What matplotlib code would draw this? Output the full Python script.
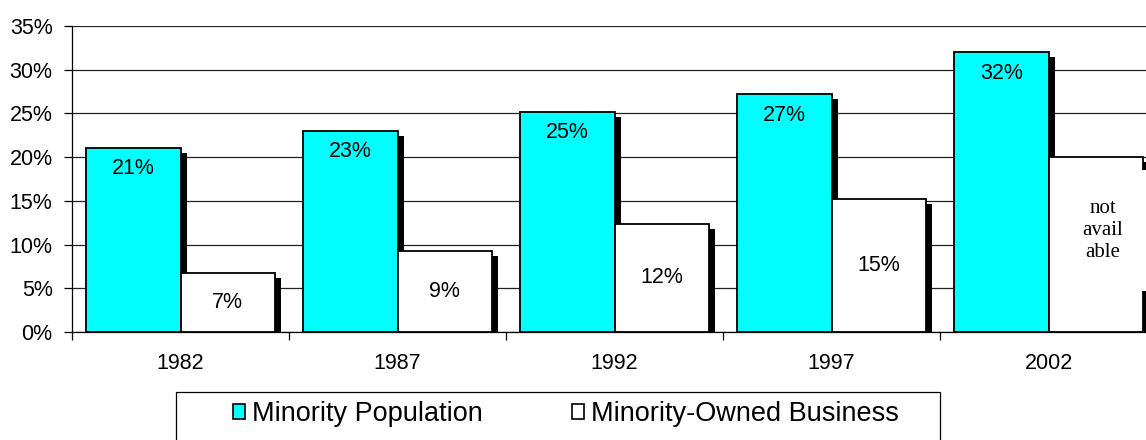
import matplotlib
matplotlib.use("Agg")
import matplotlib.pyplot as plt
from matplotlib.patches import Patch, Rectangle
from matplotlib.transforms import ScaledTranslation, offset_copy
import numpy as np

years = ["1982", "1987", "1992", "1997", "2002"]
population = [21.1, 23.0, 25.2, 27.2, 32.0]
business = [6.8, 9.3, 12.4, 15.2, 20.0]
pop_labels = ["21%", "23%", "25%", "27%", "32%"]
bus_labels = ["7%", "9%", "12%", "15%", "not\navail\nable"]
yticks = [0, 5, 10, 15, 20, 25, 30, 35]
series_names = ["Minority Population", "Minority-Owned Business"]

plt.rcParams['font.family'] = ['Liberation Sans', 'DejaVu Sans']

W, H, DPI = 1146, 440, 100
fig = plt.figure(figsize=(W / DPI, H / DPI), dpi=DPI)
ax = fig.add_axes([72 / W, (H - 332) / H, 1085 / W, 306 / H])

x = np.arange(len(years))
bw = 0.435
off = 0.2175
cyan = "#00FFFF"
FS = 15.5

# shadows
sh_pop = ax.bar(x - off, population, bw, color="black", zorder=1, linewidth=0)
sh_bus = ax.bar(x + off, business, bw, color="black", zorder=1, linewidth=0)
shift = ScaledTranslation(6 / DPI, -5 / DPI, fig.dpi_scale_trans)
for p in list(sh_pop) + list(sh_bus):
    p.set_transform(ax.transData + shift)

bp = ax.bar(x - off, population, bw, color=cyan, edgecolor="black", linewidth=1.3, zorder=2)
bb = ax.bar(x + off, business, bw, color="white", edgecolor="black", linewidth=1.3, zorder=2)

for xi, v, lab in zip(x, population, pop_labels):
    t = offset_copy(ax.transData, fig=fig, x=0, y=-21, units='dots')
    ax.text(xi - off, v, lab, transform=t, ha="center", va="center", fontsize=FS, zorder=4)

for i, (xi, v, lab) in enumerate(zip(x, business, bus_labels)):
    if "\n" in lab:
        t = offset_copy(ax.transData, fig=fig, x=7, y=14, units='dots')
        ax.text(xi + off, v / 2, lab, transform=t, ha="center", va="center",
                fontsize=15, family="Liberation Serif", linespacing=1.2, zorder=4,
                bbox=dict(facecolor="white", edgecolor="none", pad=21))
    else:
        ax.text(xi + off, v / 2, lab, ha="center", va="center", fontsize=FS, zorder=4)

ax.set_xlim(-0.5, len(years) - 0.5)
ax.set_ylim(0, 35)
ax.set_yticks(yticks)
ax.set_yticklabels([f"{t}%" for t in yticks], fontsize=FS)
ax.yaxis.grid(True, color="#222222", linewidth=0.9, zorder=0)
ax.set_axisbelow(True)

ax.set_xticks(np.arange(len(years) + 1) - 0.5)
ax.set_xticklabels([])
ax.set_xticks(x, minor=True)
ax.set_xticklabels(years, minor=True, fontsize=FS)
ax.tick_params(axis="x", which="major", length=6, width=0.9, direction="out")
ax.tick_params(axis="x", which="minor", length=0, pad=15)
ax.tick_params(axis="y", length=6, width=0.9, pad=8)

for s in ["top", "right"]:
    ax.spines[s].set_visible(False)
ax.spines["left"].set_linewidth(0.9)
ax.spines["bottom"].set_linewidth(0.9)

# legend
fig.patches.append(Rectangle((176 / W, -0.05), (940 - 176) / W, (H - 392) / H + 0.05,
                             transform=fig.transFigure, facecolor="white",
                             edgecolor="black", linewidth=0.9, zorder=0))
handles = [Patch(facecolor=cyan, edgecolor="black", linewidth=1.2),
           Patch(facecolor="white", edgecolor="black", linewidth=1.2)]
fig.legend(handles, series_names, loc="center", bbox_to_anchor=(566 / W, (H - 414) / H),
           ncol=2, frameon=False, fontsize=19.5, handlelength=0.45, handleheight=0.45,
           handletextpad=0.25, columnspacing=3.3)

fig.savefig("out.png", dpi=DPI)
